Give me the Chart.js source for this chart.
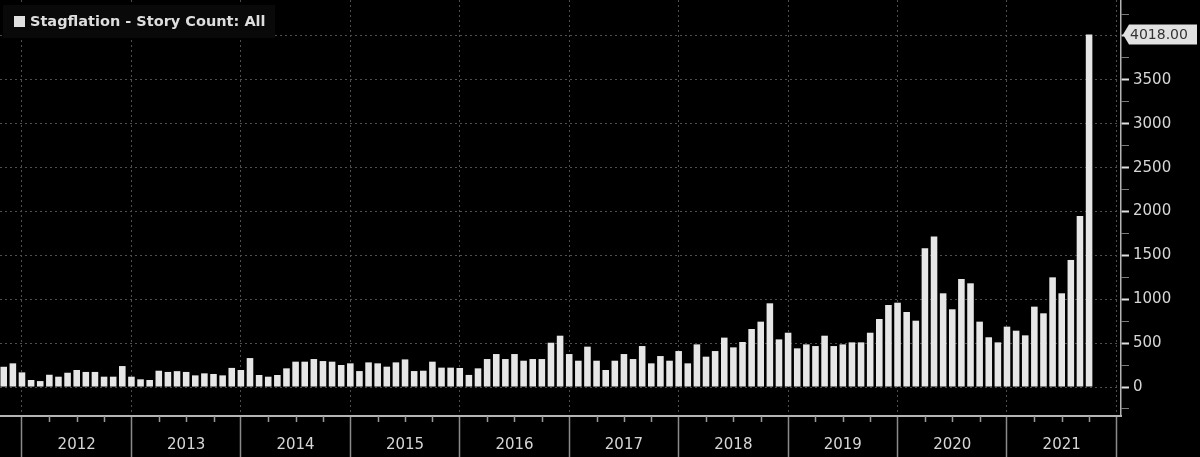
<!DOCTYPE html>
<html>
<head>
<meta charset="utf-8">
<script src="https://cdn.jsdelivr.net/npm/chart.js@4.4.0/dist/chart.umd.min.js"></script>
<style>
  html, body { margin: 0; padding: 0; background: #000; }
  #wrap { width: 1200px; height: 457px; position: relative; }
</style>
</head>
<body>
<div id="wrap"><canvas id="grafico"></canvas></div>
<script>
// ===================== DADOS =====================
const seriesName = 'Stagflation - Story Count: All';
const yearLabels = ['2012', '2013', '2014', '2015', '2016', '2017', '2018', '2019', '2020', '2021'];
const firstBarMonth = -2; // meses contados a partir do início de 2012
const storyCount = [
  231, 270,
  167, 80, 68, 140, 118, 163, 194, 172, 172, 118, 118, 239,
  118, 88, 80, 186, 172, 181, 172, 133, 156, 149, 133, 218,
  194, 330, 137, 118, 137, 213, 289, 289, 319, 296, 289, 251,
  270, 182, 281, 270, 232, 281, 315, 182, 186, 289, 221, 221,
  217, 138, 213, 319, 376, 319, 376, 300, 319, 319, 505, 585,
  376, 300, 460, 300, 194, 300, 376, 319, 467, 270, 353, 300,
  410, 270, 486, 346, 410, 563, 452, 513, 661, 745, 954, 543,
  619, 441, 486, 467, 585, 467, 486, 509, 509, 619, 775, 935,
  961, 855, 756, 1581, 1714, 1068, 886, 1231, 1182, 745, 567, 509,
  688, 642, 589, 916, 840, 1250, 1068, 1448, 1950, 4018
];
const yTickValues = [-250, 0, 250, 500, 750, 1000, 1250, 1500, 1750, 2000, 2250, 2500,
  2750, 3000, 3250, 3500, 3750, 4000, 4250];
const yLabelValues = [0, 500, 1000, 1500, 2000, 2500, 3000, 3500];
const lastValueLabel = '4018.00';

// marcas trimestrais do eixo x (0 = jan/2012)
const xTickMonths = [];
for (let m = 0; m <= yearLabels.length * 12; m += 3) xTickMonths.push(m);

const pontos = storyCount.map((v, i) => ({ x: firstBarMonth + i, y: v }));

const fonteEixo = { family: '"DejaVu Sans", sans-serif', size: 15 };
const isYear = c => c.tick && c.tick.value % 12 === 0;
const isMajor = c => c.tick && c.tick.value >= 0 && c.tick.value % 500 === 0;

// ===================== PLUGINS =====================
const pluginFundo = {
  id: 'fundo',
  beforeDraw(chart) {
    const ctx = chart.ctx;
    ctx.save();
    ctx.fillStyle = '#000';
    ctx.fillRect(0, 0, chart.width, chart.height);
    ctx.restore();
  }
};

const pluginExtras = {
  id: 'extras',
  afterDraw(chart) {
    const { ctx, scales: { x, y } } = chart;
    ctx.save();

    // ticks menores dos trimestres
    ctx.strokeStyle = '#9a9a9a';
    ctx.lineWidth = 1.5;
    xTickMonths.filter(m => m % 12 !== 0).forEach(m => {
      const px = Math.round(x.getPixelForValue(m)) + 0.5;
      ctx.beginPath();
      ctx.moveTo(px, x.top);
      ctx.lineTo(px, x.top + 6);
      ctx.stroke();
    });

    // caixa do último valor
    const ultimo = storyCount[storyCount.length - 1];
    const py = y.getPixelForValue(ultimo);
    const bx = y.left + 6, bw = 70, bh = 20;
    ctx.fillStyle = '#e2e2e2';
    ctx.beginPath();
    ctx.moveTo(bx - 4, py);
    ctx.lineTo(bx + 2, py - bh / 2);
    ctx.lineTo(bx + bw, py - bh / 2);
    ctx.lineTo(bx + bw, py + bh / 2);
    ctx.lineTo(bx + 2, py + bh / 2);
    ctx.closePath();
    ctx.fill();
    ctx.fillStyle = '#333';
    ctx.font = '14px "DejaVu Sans", sans-serif';
    ctx.textBaseline = 'middle';
    ctx.textAlign = 'left';
    ctx.fillText(lastValueLabel, bx + 3, py + 1);

    // legenda
    ctx.fillStyle = '#090909';
    ctx.fillRect(3, 5, 272, 33);
    ctx.fillStyle = '#e0e0e0';
    ctx.fillRect(14, 16, 11, 11);
    ctx.font = 'bold 14.5px "DejaVu Sans", sans-serif';
    ctx.fillStyle = '#dedede';
    ctx.fillText(seriesName, 30, 22);

    ctx.restore();
  }
};

// ===================== GRÁFICO =====================
new Chart(document.getElementById('grafico'), {
  type: 'bar',
  data: {
    datasets: [{
      label: seriesName,
      data: pontos,
      backgroundColor: '#e6e6e6',
      barPercentage: 0.72,
      categoryPercentage: 1
    }]
  },
  options: {
    responsive: true,
    maintainAspectRatio: false,
    animation: false,
    layout: { padding: 0 },
    plugins: { legend: { display: false }, tooltip: { enabled: false } },
    scales: {
      x: {
        type: 'linear',
        min: -2.41,
        max: 120.5,
        offset: false,
        afterBuildTicks: s => { s.ticks = xTickMonths.map(v => ({ value: v })); },
        afterFit: s => {
          s.height = 41;
          s.paddingLeft = 0; s.paddingRight = 0; s.paddingTop = 0; s.paddingBottom = 0;
        },
        ticks: {
          autoSkip: false,
          maxRotation: 0,
          padding: -21,
          labelOffset: 54.7,
          color: '#d6d6d6',
          font: fonteEixo,
          callback: v => (v % 12 === 0 && v / 12 < yearLabels.length) ? yearLabels[v / 12] : ''
        },
        grid: {
          offset: false,
          tickLength: 41,
          color: c => isYear(c) ? '#4e4e4e' : 'transparent',
          tickColor: c => isYear(c) ? '#8a8a8a' : 'transparent',
          tickWidth: 1.5,
          tickBorderDash: []
        },
        border: { color: '#b4b4b4', width: 2, dash: [2, 3] }
      },
      y: {
        position: 'right',
        min: -330,
        max: 4410,
        afterBuildTicks: s => { s.ticks = yTickValues.map(v => ({ value: v })); },
        afterFit: s => {
          s.width = 79;
          s.paddingLeft = 0; s.paddingRight = 0; s.paddingTop = 0; s.paddingBottom = 0;
        },
        ticks: {
          padding: 4,
          color: '#d6d6d6',
          font: fonteEixo,
          callback: v => yLabelValues.includes(v) ? String(v) : ''
        },
        grid: {
          tickLength: 8,
          color: c => isMajor(c) ? '#4e4e4e' : 'transparent',
          tickColor: c => isMajor(c) ? '#e0e0e0' : '#7a7a7a',
          tickWidth: c => isMajor(c) ? 2 : 1,
          tickBorderDash: []
        },
        border: { color: '#b4b4b4', width: 1.5, dash: [2, 3] }
      }
    }
  },
  plugins: [pluginFundo, pluginExtras]
});
</script>
</body>
</html>
